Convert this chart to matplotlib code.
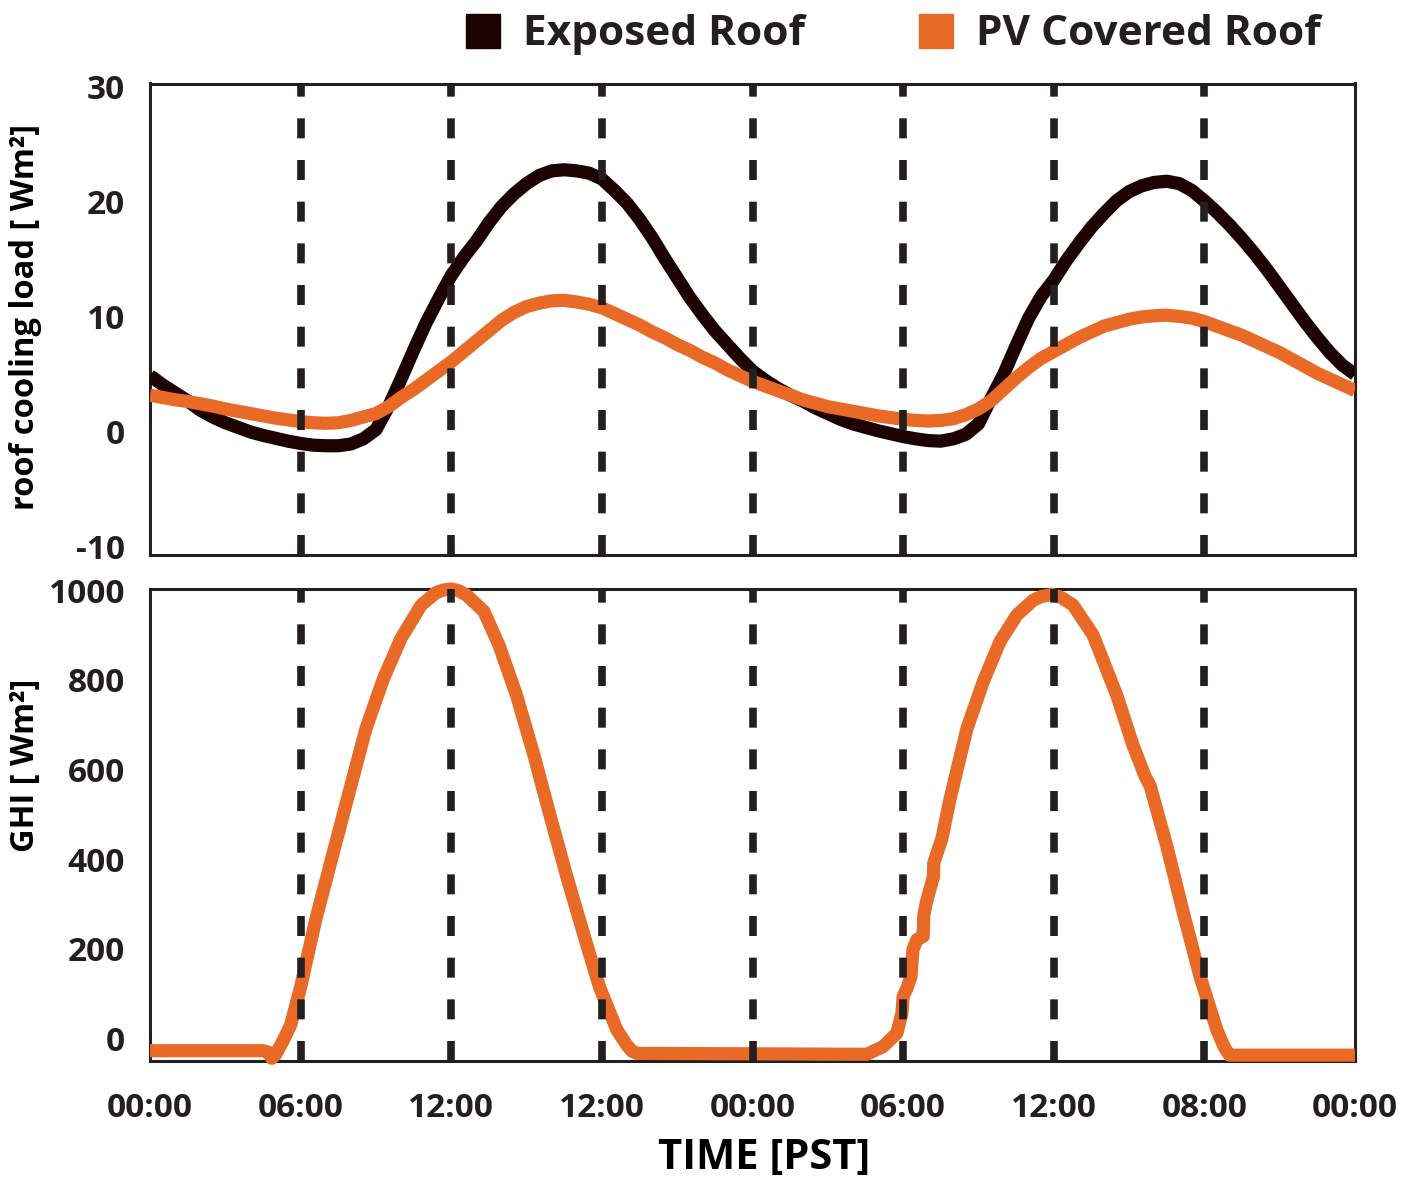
import matplotlib
matplotlib.use("Agg")
import matplotlib.pyplot as plt
from matplotlib.lines import Line2D
from matplotlib.ticker import FixedLocator

# ---------------- data ----------------
hours = [i * 0.5 for i in range(97)]
exposed_roof = [4.9, 4.1, 3.4, 2.7, 1.9, 1.3, 0.8, 0.4, 0.0, -0.3,
                -0.55, -0.8, -1.0, -1.15, -1.2, -1.2, -1.05, -0.6, 0.2, 2.2,
                4.6, 7.1, 9.5, 11.6, 13.6, 15.2, 16.6, 18.2, 19.6, 20.7,
                21.6, 22.3, 22.7, 22.8, 22.7, 22.5, 22.0, 21.0, 19.9, 18.5,
                16.9, 15.1, 13.4, 11.7, 10.2, 8.8, 7.6, 6.4, 5.3, 4.5,
                3.8, 3.2, 2.7, 2.1, 1.6, 1.1, 0.7, 0.4, 0.1, -0.15,
                -0.4, -0.6, -0.75, -0.8, -0.6, -0.2, 0.7, 2.9, 5.0, 7.5,
                9.9, 11.8, 13.2, 14.9, 16.4, 17.8, 19.0, 20.1, 20.9, 21.4,
                21.7, 21.8, 21.6, 21.0, 20.1, 19.1, 18.0, 16.8, 15.5, 14.1,
                12.6, 11.1, 9.6, 8.2, 6.9, 5.8, 5.0]
pv_covered_roof = [3.2, 3.0, 2.8, 2.65, 2.45, 2.25, 2.0, 1.8, 1.6, 1.4,
                   1.2, 1.05, 0.9, 0.8, 0.75, 0.8, 1.0, 1.3, 1.6, 2.2,
                   3.0, 3.7, 4.5, 5.3, 6.1, 7.0, 7.9, 8.8, 9.7, 10.4,
                   10.9, 11.2, 11.4, 11.45, 11.3, 11.1, 10.8, 10.3, 9.8, 9.3,
                   8.7, 8.2, 7.6, 7.1, 6.5, 6.0, 5.4, 4.9, 4.4, 4.0,
                   3.6, 3.2, 2.8, 2.5, 2.2, 2.0, 1.8, 1.6, 1.4, 1.25,
                   1.1, 1.0, 0.95, 1.0, 1.15, 1.5, 2.0, 2.7, 3.7, 4.7,
                   5.6, 6.4, 7.0, 7.6, 8.2, 8.7, 9.2, 9.5, 9.8, 10.0,
                   10.1, 10.15, 10.05, 9.9, 9.6, 9.2, 8.8, 8.4, 7.9, 7.4,
                   6.9, 6.3, 5.7, 5.1, 4.6, 4.1, 3.6]

ghi_hours = [0, 4.5, 4.7, 4.85, 5.0, 5.3, 5.6, 6.0, 6.6, 7.3, 8.0, 8.6, 9.3,
             10.0, 10.8, 11.4, 11.7, 12.0, 12.3, 12.6, 13.3, 13.9, 14.6, 15.3,
             15.9, 16.6, 17.3, 17.9, 18.6, 19.0, 19.2, 19.4, 28.55, 29.2,
             29.75, 29.95, 30.0, 30.15, 30.31, 30.39, 30.55, 30.8, 30.82,
             30.92, 31.21, 31.22, 31.54, 31.85, 32.54, 33.19, 33.86, 34.53,
             35.18, 35.5, 35.92, 36.3, 36.77, 37.57, 38.51, 39.16, 39.64,
             39.84, 40.5, 41.16, 41.83, 42.5, 42.8, 43.0, 48]
ghi_values = [-27, -27, -30, -44, -36, -5, 30, 115, 265, 415, 564, 691, 803,
              893, 967, 995, 1001, 1003, 999, 990, 953, 878, 766, 631,
              505, 362, 228, 116, 19, -15, -28, -33, -35, -18,
              12, 56, 94, 112, 138, 198, 221, 228, 273,
              303, 362, 392, 445, 530, 691, 796, 886, 945,
              978, 986, 991, 984, 967, 900, 766, 654, 585,
              564, 430, 281, 138, 19, -20, -37, -37]

x_tick_pos = [0, 6, 12, 18, 24, 30, 36, 42, 48]
x_tick_labels = ["00:00", "06:00", "12:00", "12:00", "00:00", "06:00",
                 "12:00", "08:00", "00:00"]
marker_hours = [6, 12, 18, 24, 30, 36, 42]

top_yticks = [-10, 0, 10, 20, 30]
bottom_yticks = [0, 200, 400, 600, 800, 1000]

# ---------------- style ----------------
DARK = "#1c0300"
ORANGE = "#e86a26"
INK = "#231f20"
FONT = ["Open Sans", "DejaVu Sans"]
plt.rcParams["font.family"] = FONT
plt.rcParams["lines.scale_dashes"] = False
plt.rcParams["text.color"] = INK

W, H = 1407, 1180
fig = plt.figure(figsize=(W / 100, H / 100), dpi=100)

L, R = 150, 1355
ax1 = fig.add_axes([L / W, 1 - 555 / H, (R - L) / W, (555 - 83.5) / H])
ax2 = fig.add_axes([L / W, 1 - 1061 / H, (R - L) / W, (1061 - 589) / H])

lw_data = 9.5
ax1.plot(hours, exposed_roof, color=DARK, lw=lw_data, solid_capstyle="butt",
         solid_joinstyle="round", zorder=3)
ax1.plot(hours, pv_covered_roof, color=ORANGE, lw=lw_data, solid_capstyle="butt",
         solid_joinstyle="round", zorder=4)
ax2.plot(ghi_hours, ghi_values, color=ORANGE, lw=lw_data, solid_capstyle="butt",
         solid_joinstyle="round", zorder=4, clip_on=False)

for ax in (ax1, ax2):
    for h in marker_hours:
        ax.axvline(h, color=INK, lw=5.5, linestyle=(0, (14.4, 15.6)),
                   dash_capstyle="butt", zorder=5)
    ax.set_xlim(0, 48)
    for s in ax.spines.values():
        s.set_color(INK)
        s.set_linewidth(2.2)
    ax.set_xticks(x_tick_pos)
    ax.tick_params(axis="x", length=0)
    ax.tick_params(axis="y", length=0, pad=18, labelsize=24, labelcolor=INK)

ax1.set_ylim(-10.7, 30.3)
ax1.set_yticks(top_yticks)
ax1.set_yticklabels([str(v) for v in top_yticks], fontweight="bold")
ax1.yaxis.set_minor_locator(FixedLocator([0, 10, 20]))
ax1.tick_params(axis="y", which="minor", direction="in", length=12.5, width=2.2,
                color=INK, left=True, right=True)
ax1.set_xticklabels([])

ax2.set_ylim(-50, 1003)
ax2.set_yticks(bottom_yticks)
ax2.set_yticklabels([str(v) for v in bottom_yticks], fontweight="bold")
ax2.set_xticklabels(x_tick_labels, fontweight="bold")
ax2.tick_params(axis="x", pad=22, labelsize=24, labelcolor=INK)

ax1.set_ylabel("roof cooling load [ Wm²]", fontsize=23.5, fontweight="bold")
ax1.yaxis.set_label_coords(-0.09, 0.505)
ax2.set_ylabel("GHI [ Wm²]", fontsize=23.5, fontweight="bold")
ax2.yaxis.set_label_coords(-0.09, 0.627)
ax2.set_xlabel("TIME [PST]", fontsize=30, fontweight="bold", va="top")
ax2.xaxis.set_label_coords(0.51, -0.163)

handles = [Line2D([], [], marker="s", color=DARK, ls="none", markersize=24.5),
           Line2D([], [], marker="s", color=ORANGE, ls="none", markersize=24.5)]
fig.legend(handles, ["Exposed Roof", "PV Covered Roof"], ncol=2,
           loc="upper left", bbox_to_anchor=(453 / W, 1 - 6 / H),
           frameon=False, handlelength=1.0, handletextpad=0.45,
           columnspacing=2.6, borderpad=0.2, borderaxespad=0.0,
           prop={"size": 30.5, "weight": "bold"})

fig.savefig("out.png", dpi=100)
